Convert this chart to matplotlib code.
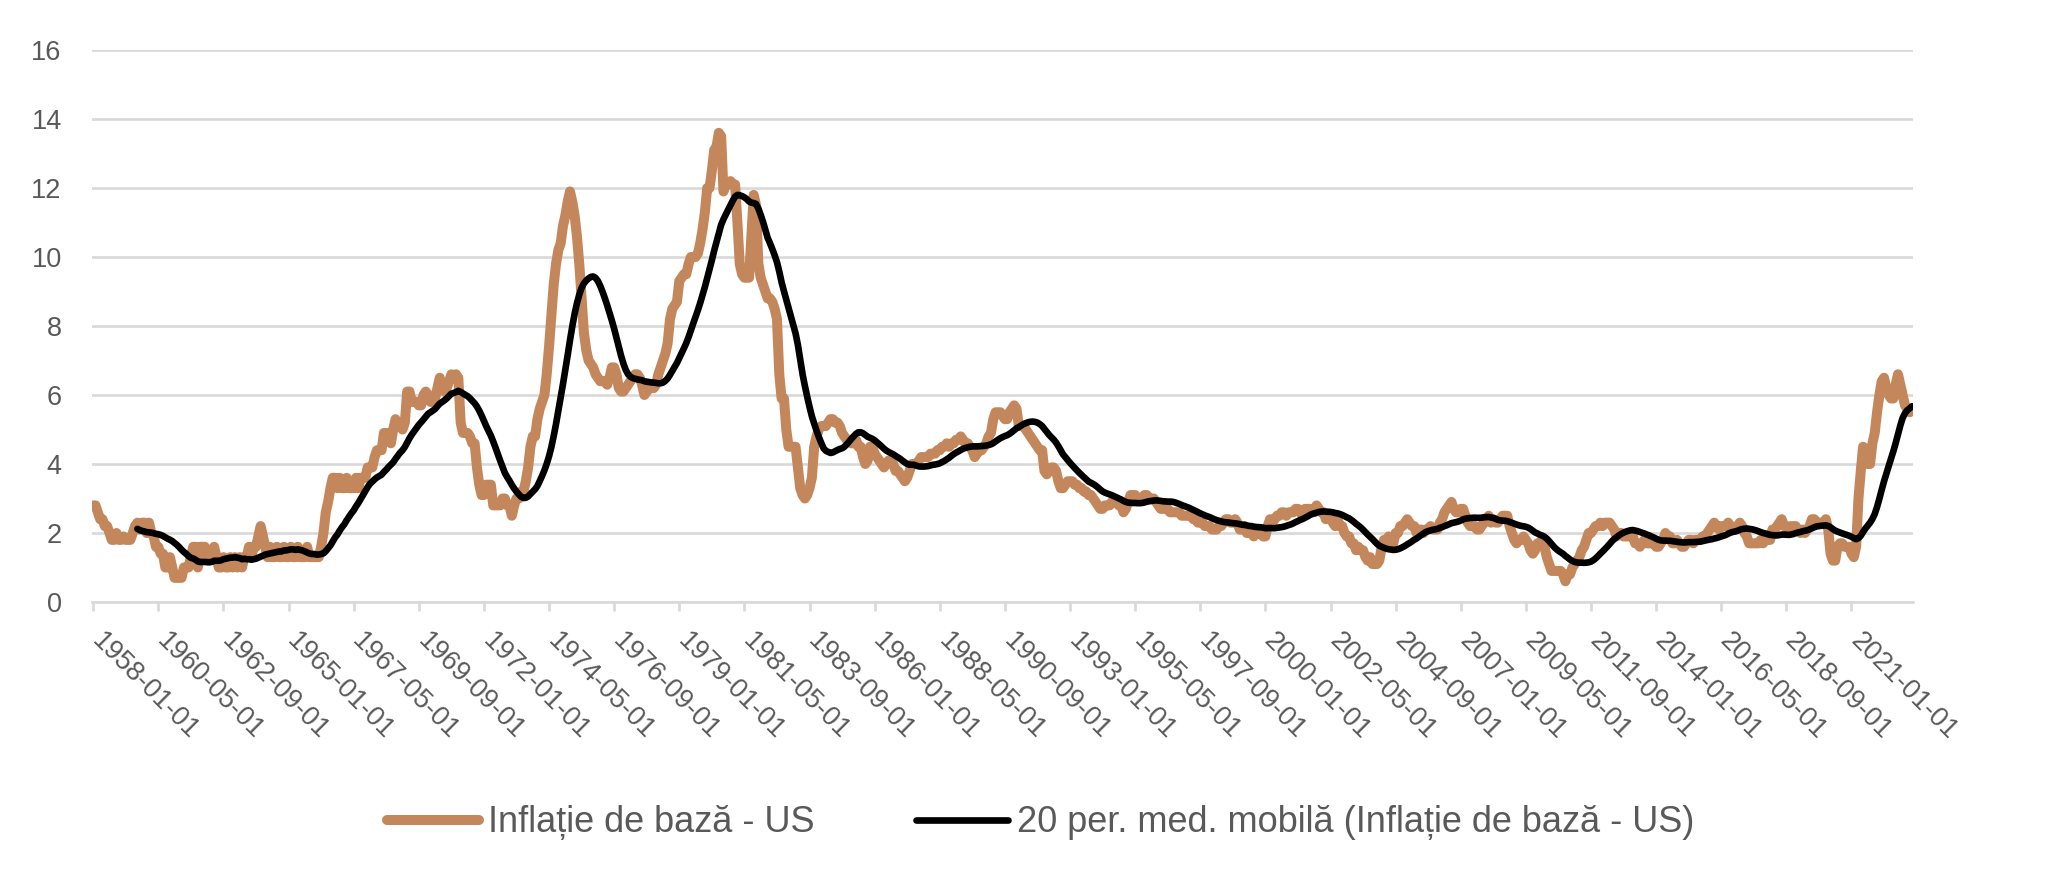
import numpy as np
import pandas as pd
import matplotlib
matplotlib.use("Agg")
import matplotlib.pyplot as plt

# US core inflation, monthly, % y/y
core_1958_1969 = [
    2.8, 2.8, 2.6, 2.4, 2.4, 2.2, 2.2, 2.0, 1.8, 1.8, 2.0, 1.8,   # 1958
    1.8, 1.9, 1.8, 1.8, 1.8, 2.0, 2.2, 2.3, 2.1, 2.3, 2.3, 2.0,   # 1959
    2.3, 2.0, 1.9, 1.6, 1.6, 1.4, 1.4, 1.0, 1.0, 1.3, 1.0, 0.7,   # 1960
    0.7, 0.7, 0.7, 1.0, 1.0, 1.0, 1.3, 1.6, 1.6, 1.0, 1.6, 1.6,   # 1961
    1.6, 1.3, 1.3, 1.3, 1.6, 1.3, 1.0, 1.0, 1.3, 1.0, 1.0, 1.3,   # 1962
    1.0, 1.3, 1.0, 1.3, 1.0, 1.3, 1.3, 1.6, 1.3, 1.6, 1.6, 1.9,   # 1963
    2.2, 1.9, 1.6, 1.3, 1.6, 1.3, 1.3, 1.6, 1.3, 1.3, 1.6, 1.3,   # 1964
    1.3, 1.6, 1.3, 1.3, 1.6, 1.3, 1.3, 1.3, 1.6, 1.3, 1.3, 1.3,   # 1965
    1.3, 1.3, 1.6, 2.0, 2.6, 2.9, 3.3, 3.6, 3.6, 3.3, 3.6, 3.3,   # 1966
    3.3, 3.6, 3.3, 3.3, 3.3, 3.6, 3.3, 3.6, 3.6, 3.6, 3.9, 3.9,   # 1967
    3.9, 4.2, 4.4, 4.4, 4.4, 4.9, 4.9, 4.9, 4.6, 5.0, 5.3, 5.1,   # 1968
    5.1, 5.0, 5.2, 6.1, 6.1, 5.8, 5.8, 5.8, 5.7, 5.7, 6.0, 6.1,   # 1969
]
core_1970s = [
    6.0, 5.8, 5.8, 5.9, 6.2, 6.5, 6.2, 6.1, 6.2, 6.4, 6.6, 6.5,
    6.6, 6.5, 5.2, 4.9, 4.9, 4.9, 4.8, 4.6, 4.6, 3.9, 3.4, 3.1,
    3.1, 3.4, 3.4, 3.4, 2.8, 2.8, 2.8, 2.8, 3.0, 3.0, 2.8, 2.8,
    2.5, 2.8, 3.0, 3.0, 3.2, 3.2, 3.5, 3.9, 4.5, 4.8, 4.8, 5.3,
    5.6, 5.8, 6.0, 6.6, 7.4, 8.3, 9.2, 9.8, 10.2, 10.4, 10.9, 11.2,
    11.6, 11.9, 11.6, 11.2, 10.6, 9.8, 8.8, 7.8, 7.3, 7.0, 6.9, 6.8,
    6.6, 6.5, 6.4, 6.4, 6.4, 6.3, 6.5, 6.8, 6.8, 6.6, 6.2, 6.1,
    6.1, 6.2, 6.3, 6.4, 6.5, 6.6, 6.6, 6.5, 6.3, 6.0, 6.1, 6.2,
    6.2, 6.2, 6.3, 6.6, 6.8, 7.0, 7.2, 7.5, 8.2, 8.5, 8.6, 8.7,
    9.3, 9.4, 9.5, 9.5, 9.8, 10.0, 10.0, 10.0, 10.1, 10.4, 10.8, 11.3,
]
core_1980s = [
    12.0, 12.0, 12.5, 13.1, 13.2, 13.6, 13.5, 11.9, 12.1, 12.1, 12.2, 12.1,
    12.1, 11.0, 9.8, 9.5, 9.4, 9.4, 9.4, 10.6, 11.8, 11.5, 9.8, 9.4,
    9.2, 9.0, 8.8, 8.8, 8.7, 8.5, 8.2, 6.6, 5.9, 5.9, 5.0, 4.5,
    4.5, 4.5, 4.5, 3.9, 3.3, 3.1, 3.0, 3.1, 3.3, 3.6, 4.5, 4.8,
    5.0, 5.1, 5.1, 5.1, 5.2, 5.3, 5.3, 5.2, 5.2, 5.1, 4.9, 4.8,
    4.7, 4.7, 4.6, 4.6, 4.7, 4.5, 4.5, 4.2, 4.0, 4.1, 4.5, 4.5,
    4.3, 4.2, 4.1, 4.0, 3.9, 4.0, 4.1, 4.1, 4.0, 3.8, 3.8, 3.7,
    3.6, 3.5, 3.6, 3.8, 4.0, 4.0, 4.0, 4.1, 4.2, 4.2, 4.2, 4.2,
    4.3, 4.3, 4.3, 4.4, 4.4, 4.5, 4.5, 4.6, 4.5, 4.6, 4.6, 4.7,
    4.7, 4.8, 4.7, 4.6, 4.6, 4.5, 4.4, 4.2, 4.3, 4.4, 4.4, 4.5,
]
core_1990s = [
    4.6, 4.8, 4.9, 5.3, 5.5, 5.5, 5.5, 5.4, 5.3, 5.3, 5.5, 5.6,
    5.7, 5.6, 5.1, 5.1, 5.1, 5.0, 4.9, 4.8, 4.7, 4.6, 4.5, 4.4,
    4.4, 3.8, 3.7, 3.8, 3.9, 3.9, 3.8, 3.5, 3.3, 3.3, 3.4, 3.5,
    3.5, 3.5, 3.4, 3.4, 3.3, 3.3, 3.2, 3.2, 3.1, 3.1, 3.0, 2.9,
    2.8, 2.7, 2.7, 2.8, 2.8, 2.8, 2.9, 2.9, 2.9, 2.8, 2.8, 2.6,
    2.7, 2.9, 3.1, 3.1, 3.1, 3.0, 3.0, 3.0, 3.1, 3.1, 3.0, 3.0,
    3.0, 2.9, 2.8, 2.7, 2.7, 2.7, 2.7, 2.6, 2.6, 2.6, 2.6, 2.6,
    2.5, 2.5, 2.5, 2.5, 2.5, 2.4, 2.4, 2.3, 2.3, 2.3, 2.2, 2.2,
    2.2, 2.1, 2.1, 2.1, 2.2, 2.2, 2.3, 2.4, 2.4, 2.3, 2.3, 2.4,
    2.3, 2.1, 2.1, 2.2, 2.0, 2.0, 2.1, 1.9, 2.0, 2.0, 2.0, 1.9,
]
core_2000s = [
    1.9, 2.2, 2.4, 2.3, 2.4, 2.5, 2.5, 2.6, 2.6, 2.5, 2.6, 2.6,
    2.6, 2.7, 2.7, 2.6, 2.5, 2.7, 2.7, 2.7, 2.6, 2.6, 2.8, 2.7,
    2.6, 2.6, 2.4, 2.5, 2.5, 2.3, 2.2, 2.4, 2.2, 2.2, 2.0, 1.9,
    1.9, 1.7, 1.7, 1.5, 1.6, 1.5, 1.5, 1.3, 1.2, 1.3, 1.1, 1.1,
    1.1, 1.2, 1.6, 1.8, 1.7, 1.9, 1.8, 1.7, 2.0, 2.0, 2.2, 2.2,
    2.3, 2.4, 2.3, 2.2, 2.2, 2.0, 2.1, 2.1, 2.0, 2.1, 2.1, 2.2,
    2.1, 2.1, 2.1, 2.3, 2.4, 2.6, 2.7, 2.8, 2.9, 2.7, 2.6, 2.6,
    2.7, 2.7, 2.5, 2.3, 2.2, 2.2, 2.2, 2.1, 2.1, 2.2, 2.3, 2.4,
    2.5, 2.3, 2.4, 2.3, 2.3, 2.4, 2.5, 2.5, 2.5, 2.2, 2.0, 1.8,
    1.7, 1.8, 1.8, 1.9, 1.8, 1.7, 1.5, 1.4, 1.5, 1.7, 1.7, 1.8,
]
core_2010s = [
    1.6, 1.3, 1.1, 0.9, 0.9, 0.9, 0.9, 0.9, 0.8, 0.6, 0.8, 0.8,
    1.0, 1.1, 1.2, 1.3, 1.5, 1.6, 1.8, 2.0, 2.0, 2.1, 2.2, 2.2,
    2.3, 2.2, 2.3, 2.3, 2.3, 2.2, 2.1, 1.9, 2.0, 2.0, 1.9, 1.9,
    1.9, 2.0, 1.9, 1.7, 1.7, 1.6, 1.7, 1.8, 1.7, 1.7, 1.7, 1.7,
    1.6, 1.6, 1.7, 1.8, 2.0, 1.9, 1.9, 1.7, 1.7, 1.8, 1.7, 1.6,
    1.6, 1.7, 1.8, 1.8, 1.7, 1.8, 1.8, 1.8, 1.9, 1.9, 2.0, 2.1,
    2.2, 2.3, 2.2, 2.1, 2.2, 2.2, 2.2, 2.3, 2.2, 2.1, 2.1, 2.2,
    2.3, 2.2, 2.0, 1.9, 1.7, 1.7, 1.7, 1.7, 1.7, 1.8, 1.7, 1.8,
    1.8, 1.8, 2.1, 2.1, 2.2, 2.3, 2.4, 2.2, 2.2, 2.1, 2.2, 2.2,
    2.2, 2.1, 2.0, 2.1, 2.0, 2.1, 2.2, 2.4, 2.4, 2.3, 2.3, 2.3,
]
core_2020s = [
    2.3, 2.4, 2.1, 1.4, 1.2, 1.2, 1.6, 1.7, 1.7, 1.6, 1.6, 1.6,
    1.4, 1.3, 1.6, 3.0, 3.8, 4.5, 4.3, 4.0, 4.0, 4.6, 4.9, 5.5,
    6.0, 6.4, 6.5, 6.2, 6.0, 5.9, 5.9, 6.3, 6.6, 6.3, 6.0, 5.7,
    5.6, 5.5, 5.6,
]

start_date = "1958-01-01"
label_step = 28
ma_window = 20
series_name = "Inflație de bază - US"
ma_name = "20 per. med. mobilă (Inflație de bază - US)"


def main():
    core = (core_1958_1969 + core_1970s + core_1980s + core_1990s
            + core_2000s + core_2010s + core_2020s)
    dates = pd.date_range(start_date, periods=len(core), freq="MS")
    s = pd.Series(core, index=dates)
    ma = s.rolling(ma_window).mean()
    x = np.arange(len(s))

    plt.rcParams["font.family"] = ["Liberation Sans", "DejaVu Sans"]
    text_col = "#595959"
    grid_col = "#d9d9d9"

    fig = plt.figure(figsize=(20.68, 8.9), dpi=100)
    ax = fig.add_axes([0.0445, 0.3236, 0.8806, 0.6202])

    ax.plot(x, s.values, color="#C4875C", lw=7.2, solid_capstyle="round",
            solid_joinstyle="round", label=series_name, zorder=3)
    ax.plot(x, ma.values, color="black", lw=4.8, solid_capstyle="round",
            solid_joinstyle="round", label=ma_name, zorder=4)

    ax.set_xlim(-0.5, len(s) - 0.5)
    ax.set_ylim(0, 16)
    ax.set_yticks(range(0, 17, 2))

    # slanted date labels, each starting just under its tick
    tick_pos = x[::label_step]
    ax.set_xticks(tick_pos)
    ax.tick_params(axis="x", labelbottom=False)
    for pos, lab in zip(tick_pos, dates[::label_step].strftime("%Y-%m-%d")):
        ax.annotate(lab, xy=(pos, 0), xycoords=("data", "axes fraction"),
                    xytext=(8.5, -18.5), textcoords="offset points",
                    rotation=-45, ha="left", va="top",
                    rotation_mode="anchor", fontsize=19.5, color=text_col,
                    annotation_clip=False)

    ax.grid(axis="y", color=grid_col, lw=1.9)
    ax.set_axisbelow(True)
    for side in ["top", "right", "left"]:
        ax.spines[side].set_visible(False)
    ax.spines["bottom"].set_color(grid_col)
    ax.spines["bottom"].set_linewidth(1.9)

    ax.tick_params(axis="y", length=0, pad=21.8, labelsize=19.5,
                   labelcolor=text_col)
    ax.tick_params(axis="x", length=6.5, width=1.9, color=grid_col)

    leg = fig.legend(loc="center", bbox_to_anchor=(0.5032, 0.0753), ncol=2,
                     frameon=False, fontsize=26, handlelength=2.55,
                     handletextpad=0.25, columnspacing=2.8)
    for t in leg.get_texts():
        t.set_color(text_col)

    fig.savefig("out.png", dpi=100)


if __name__ == "__main__":
    main()
